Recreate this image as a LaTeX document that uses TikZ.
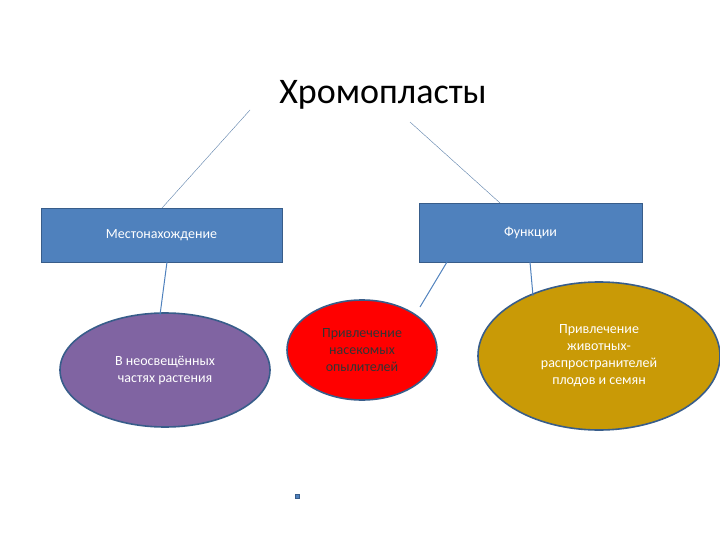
\documentclass[tikz,border=0pt]{standalone}
\usepackage{fontspec}
\setmainfont{Carlito}
\usetikzlibrary{shapes.geometric}
\definecolor{boxblue}{HTML}{4F81BD}
\definecolor{boxedge}{HTML}{385D8A}
\definecolor{purp}{HTML}{8064A2}
\definecolor{gold}{HTML}{C99A06}
\begin{document}
\begin{tikzpicture}[x=1pt,y=-1pt,
  box/.style={draw=boxedge,fill=boxblue,text=white,font=\fontsize{14}{16}\selectfont,line width=0.8pt},
  oval/.style={ellipse,draw=boxedge,line width=1.6pt,align=center,font=\fontsize{14}{17}\selectfont},
  thin/.style={draw=boxblue!70!gray,line width=0.4pt},
  link/.style={draw=boxblue,line width=1pt}]
\useasboundingbox (0,0) rectangle (720,540);
\node (t) at (383,95) {\fontsize{36}{40}\selectfont Хромопласты};
\node[box,minimum width=241,minimum height=54] (l) at (161.5,235) {Местонахождение};
\node[box,minimum width=223,minimum height=59] (r) at (530.5,232.5) {Функции};
\node[oval,fill=purp,text=white,minimum width=210,minimum height=114] (e1) at (165,370) {В неосвещённых\\частях растения};
\node[oval,fill=red,text=black!80,minimum width=150,minimum height=100] (e2) at (362,350) {Привлечение\\насекомых\\опылителей};
\node[oval,fill=gold,text=white,minimum width=242,minimum height=148] (e3) at (599,356) {Привлечение\\животных-\\распространителей\\плодов и семян};
\coordinate (a1) at (250,110); \coordinate (a2) at (410,122);
\draw[thin] (a1) -- (162,208);
\draw[thin] (a2) -- (500,203);
\draw[link] (167,262) -- (160,315);
\draw[link] (447,262) -- (420,307);
\draw[link] (530,262) -- (533,296);
\node[draw=boxedge,fill=boxblue,inner sep=0pt,minimum size=4] (d) at (297,496) {};
\end{tikzpicture}
\end{document}
